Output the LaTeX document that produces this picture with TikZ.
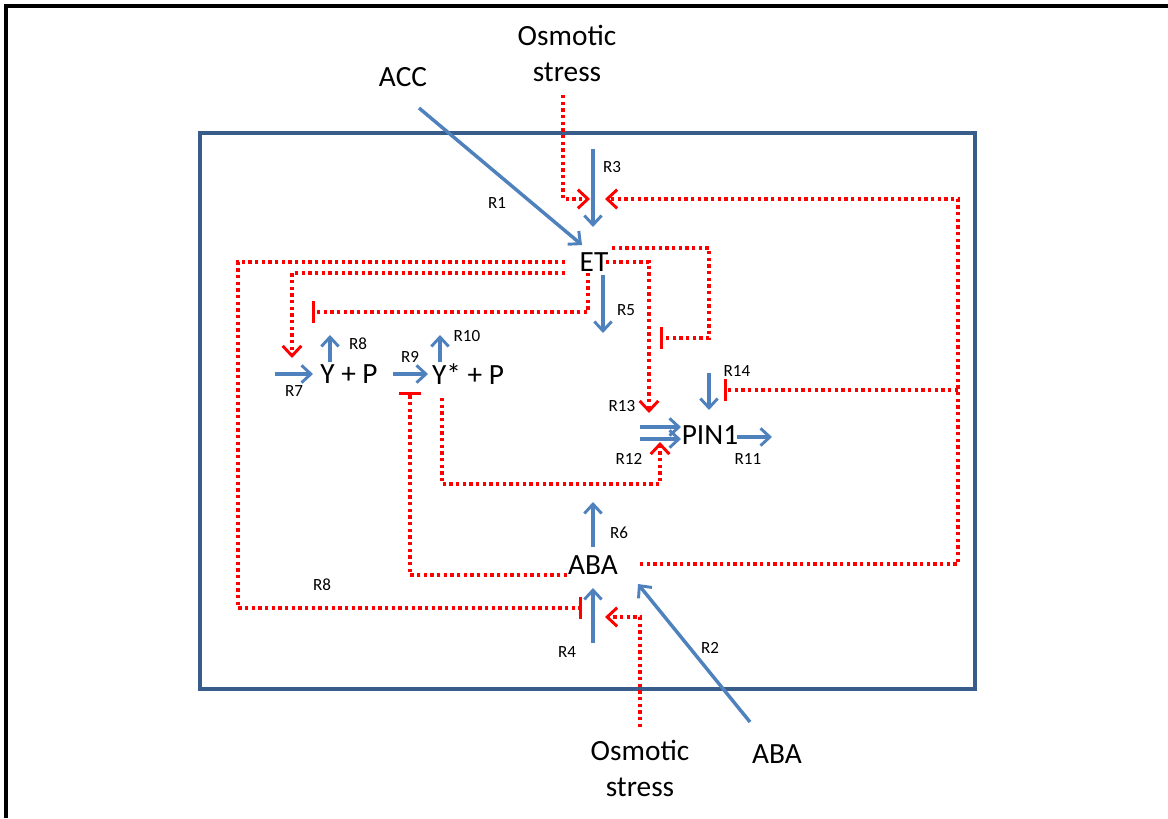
\documentclass[tikz,border=0pt]{standalone}
\usepackage{fontspec}
\setmainfont{Carlito}
\usetikzlibrary{arrows.meta}

\definecolor{rxnblue}{RGB}{79,129,189}
\definecolor{cellblue}{RGB}{56,93,138}

\begin{document}
\begin{tikzpicture}[x=0.75pt, y=-0.75pt,
  species/.style={font=\fontsize{22}{27}\selectfont, inner sep=0pt, align=center},
  rlabel/.style={font=\fontsize{12.8}{15}\selectfont, inner sep=0pt},
  rxn/.style={draw=rxnblue, line width=2.6pt, -{Straight Barb[length=7pt,width=13pt,line width=2.2pt]}},
  act/.style={draw=red, line width=2.6pt, dash pattern=on 2.6pt off 2.4pt,
    -{Straight Barb[length=7.5pt,width=14pt,line width=2.2pt]}},
  inh/.style={draw=red, line width=2.6pt, dash pattern=on 2.6pt off 2.4pt,
    -{Bar[width=17pt,line width=2.2pt]}}]
  \useasboundingbox (0,0) rectangle (1168,818);

  % Frame and cell
  \draw[line width=2.6pt] (6,818) -- (6,6) -- (1168,6);
  \draw[cellblue, line width=2.6pt] (200,133) rectangle (975,689);

  % Species
  \node[species] (osmtop) at (567,53)  {Osmotic\\stress};
  \node[species] (acc)    at (403,77)  {ACC};
  \node[species] (et)     at (594,262) {ET};
  \node[species] (yp)     at (349,374) {Y + P};
  \node[species] (ysp)    at (468,374) {Y* + P};
  \node[species] (pin)    at (710,435) {PIN1};
  \node[species] (aba)    at (593,565) {ABA};
  \node[species] (osmbot) at (640,768) {Osmotic\\stress};
  \node[species] (abaout) at (777,754) {ABA};

  % Reaction labels
  \node[rlabel] (lR1)  at (497,203) {R1};
  \node[rlabel] (lR2)  at (710,648) {R2};
  \node[rlabel] (lR3)  at (612,167) {R3};
  \node[rlabel] (lR4)  at (567,652) {R4};
  \node[rlabel] (lR5)  at (626,310) {R5};
  \node[rlabel] (lR6)  at (619,533) {R6};
  \node[rlabel] (lR7)  at (294,391) {R7};
  \node[rlabel] (lR8)  at (358,344) {R8};
  \node[rlabel] (lR8b) at (322,585) {R8};
  \node[rlabel] (lR9)  at (410,357) {R9};
  \node[rlabel] (lR10) at (467,336) {R10};
  \node[rlabel] (lR11) at (748,459) {R11};
  \node[rlabel] (lR12) at (629,459) {R12};
  \node[rlabel] (lR13) at (622,406) {R13};
  \node[rlabel] (lR14) at (737,371) {R14};

  % End points of the reaction arrows
  \coordinate (r1s) at (419,108);  \coordinate (r1e) at (582,245);
  \coordinate (r2s) at (750,722);  \coordinate (r2e) at (638,584);
  \coordinate (r3s) at (593,149);  \coordinate (r3e) at (593,227);
  \coordinate (r4s) at (593,643);  \coordinate (r4e) at (593,588);
  \coordinate (r5s) at (603,275);  \coordinate (r5e) at (603,333);
  \coordinate (r6s) at (593,547);  \coordinate (r6e) at (593,502);
  \coordinate (r7s) at (275,374);  \coordinate (r7e) at (313,374);
  \coordinate (r8s) at (330,362);  \coordinate (r8e) at (330,335);
  \coordinate (r9s) at (393,374);  \coordinate (r9e) at (428,374);
  \coordinate (r10s) at (440,362); \coordinate (r10e) at (440,335);
  \coordinate (r11s) at (737,437); \coordinate (r11e) at (772,437);
  \coordinate (r12s) at (640,439); \coordinate (r12e) at (681,439);
  \coordinate (r13s) at (640,427); \coordinate (r13e) at (681,427);
  \coordinate (r14s) at (709,373); \coordinate (r14e) at (709,410);

  % Reactions
  \foreach \r in {1,...,14}
    \draw[rxn] (r\r s) -- (r\r e);

  % Start points of the regulations
  \coordinate (osmt) at (563,95);
  \coordinate (osmb) at (640,727);
  \coordinate (etw1) at (565,262);
  \coordinate (etw2) at (565,273);
  \coordinate (ets)  at (588,273);
  \coordinate (ete1) at (612,248);
  \coordinate (ete2) at (606,262);
  \coordinate (abaw) at (567,575);
  \coordinate (abae) at (640,564);
  \coordinate (yss)  at (442,398);
  \coordinate (rside) at (958,390);

  % Regulations
  \draw[act] (osmt) |- (590,199);
  \draw[act] (abae) -- (958,564) |- (605,199);
  \draw[inh] (rside) -- (724,390);
  \draw[act] (osmb) |- (605,617);
  \draw[inh] (ete1) -| (709,338) -- (660,338);
  \draw[act] (ete2) -| (649,413);
  \draw[inh] (etw1) -| (238,608) -- (582,608);
  \draw[act] (etw2) -| (292,358);
  \draw[inh] (ets) |- (312,312);
  \draw[inh] (abaw) -| (410,392);
  \draw[act] (yss) |- (660,484) -- (660,442);
\end{tikzpicture}
\end{document}
